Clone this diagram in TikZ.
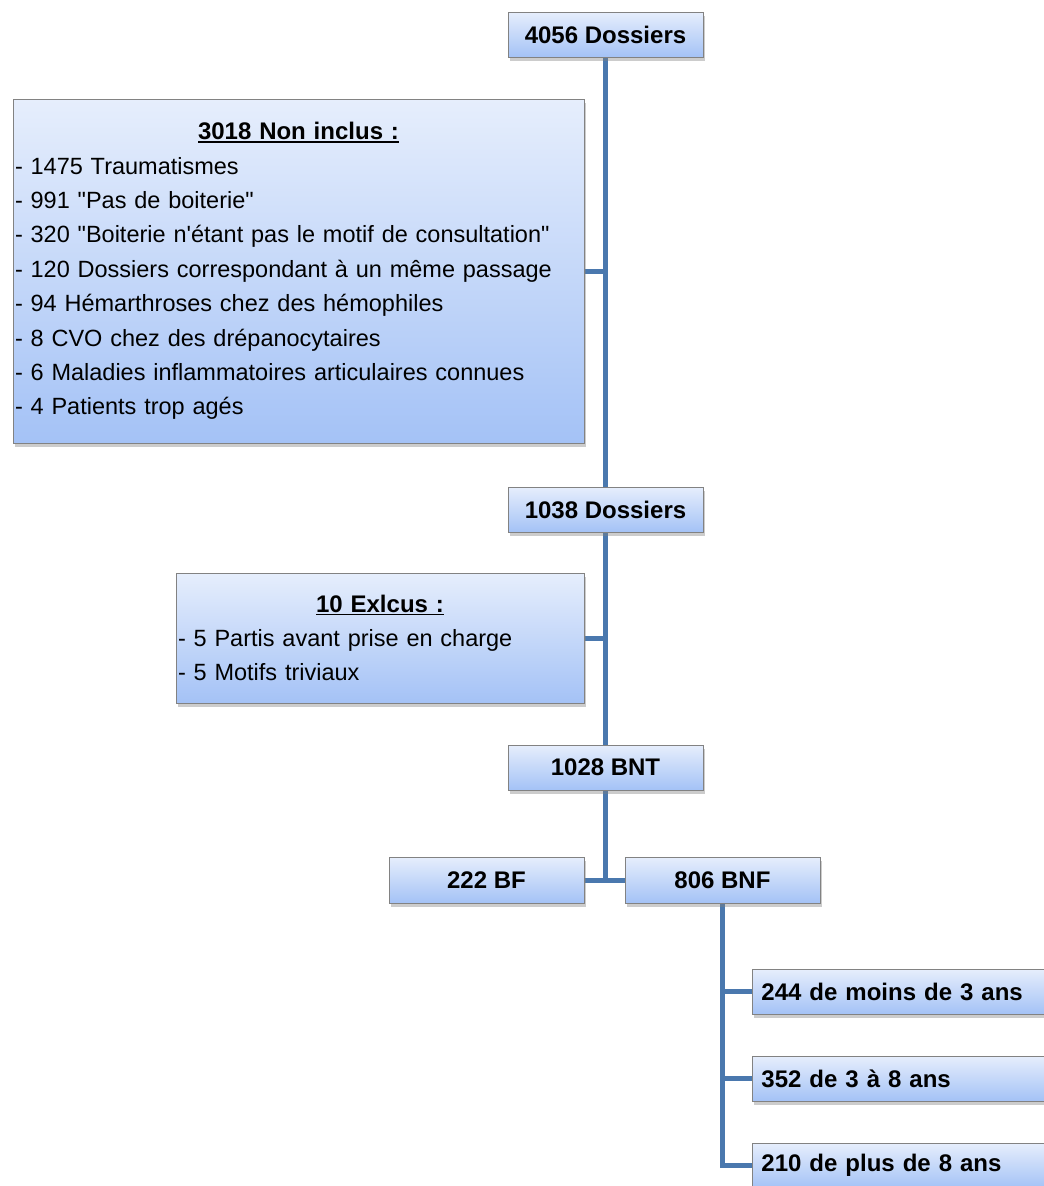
\documentclass[tikz,border=0pt]{standalone}
\usepackage{fontspec}
\setmainfont{Liberation Sans}[Ligatures=TeXOff]
\usetikzlibrary{shadows,backgrounds}

\definecolor{linkblue}{RGB}{74,120,174}
\definecolor{boxtop}{RGB}{230,238,252}
\definecolor{boxbottom}{RGB}{164,194,246}
\definecolor{boxedge}{RGB}{130,130,130}

% underlined heading with a rule thick enough for the large type
\newcommand{\ulhead}[1]{\setbox0\hbox{#1}\leavevmode\rlap{\rule[-3.2pt]{\wd0}{1.7pt}}\box0}

\tikzset{
  box/.style={rectangle, draw=boxedge, line width=0.8pt,
    top color=boxtop, bottom color=boxbottom,
    drop shadow={shadow xshift=1.5pt, shadow yshift=-4pt, opacity=0.4},
    inner sep=0pt, font=\fontsize{23.5}{34.4}\selectfont},
  smallbox/.style={box, minimum width=195pt, minimum height=45pt,
    font=\fontsize{24}{29}\selectfont\bfseries},
  listbox/.style={box, align=left, inner xsep=2pt},
  agebox/.style={box, anchor=west, minimum height=45pt, text width=322pt,
    inner xsep=9pt, align=left, font=\fontsize{24}{29}\selectfont\bfseries},
  link/.style={draw=linkblue, line width=5pt},
}

\begin{document}
\begin{tikzpicture}[x=1pt,y=-1pt]
\useasboundingbox (0,0) rectangle (1044,1186);
\clip (0,0) rectangle (1044,1186);

% main chain
\node[smallbox] (n4056) at (605.5,34.5) {4056 Dossiers};
\node[smallbox] (n1038) at (605.5,509.5) {1038 Dossiers};
\node[smallbox] (n1028) at (605.5,767.5) {1028 BNT};
\node[smallbox, minimum height=46pt] (bf)  at (486.5,880) {222 BF};
\node[smallbox, minimum height=46pt] (bnf) at (722.5,880) {806 BNF};

% side lists
\node[listbox, text width=567pt, minimum height=344pt] (nonincl) at (298.5,271) {%
\makebox[567pt]{\fontsize{24}{34.4}\selectfont\bfseries\ulhead{3018 Non inclus :}}\\
- 1475 Traumatismes\\
- 991 "Pas de boiterie"\\
- 320 "Boiterie n'étant pas le motif de consultation"\\
- 120 Dossiers correspondant à un même passage\\
- 94 Hémarthroses chez des hémophiles\\
- 8 CVO chez des drépanocytaires\\
- 6 Maladies inflammatoires articulaires connues\\
- 4 Patients trop agés};

\node[listbox, text width=404pt, minimum height=130pt] (excl) at (380,638) {%
\makebox[404pt]{\fontsize{24}{34.4}\selectfont\bfseries\ulhead{10 Exlcus :}}\\
- 5 Partis avant prise en charge\\
- 5 Motifs triviaux};

% age groups
\node[agebox] (age1) at (752,991.5)  {244 de moins de 3 ans};
\node[agebox] (age2) at (752,1078.5) {352 de 3 à 8 ans};
\node[agebox] (age3) at (752,1165.5) {210 de plus de 8 ans};

% connectors
\begin{scope}[on background layer]
  \draw[link] (n4056.south) -- (n1038.north);
  \draw[link] (nonincl.east) -- (nonincl.east -| n4056.south);
  \draw[link] (n1038.south) -- (n1028.north);
  \draw[link] (excl.east) -- (excl.east -| n1038.south);
  \coordinate (split) at (n1028.south |- bf.east);
  \draw[link] (n1028.south) -- (split);
  \draw[link] (bf.east) -- (bnf.west);
  \draw[link] (bnf.south) -- (bnf.south |- age3.west) -- (age3.west);
  \draw[link] (age1.west -| bnf.south) -- (age1.west);
  \draw[link] (age2.west -| bnf.south) -- (age2.west);
\end{scope}
\end{tikzpicture}
\end{document}
